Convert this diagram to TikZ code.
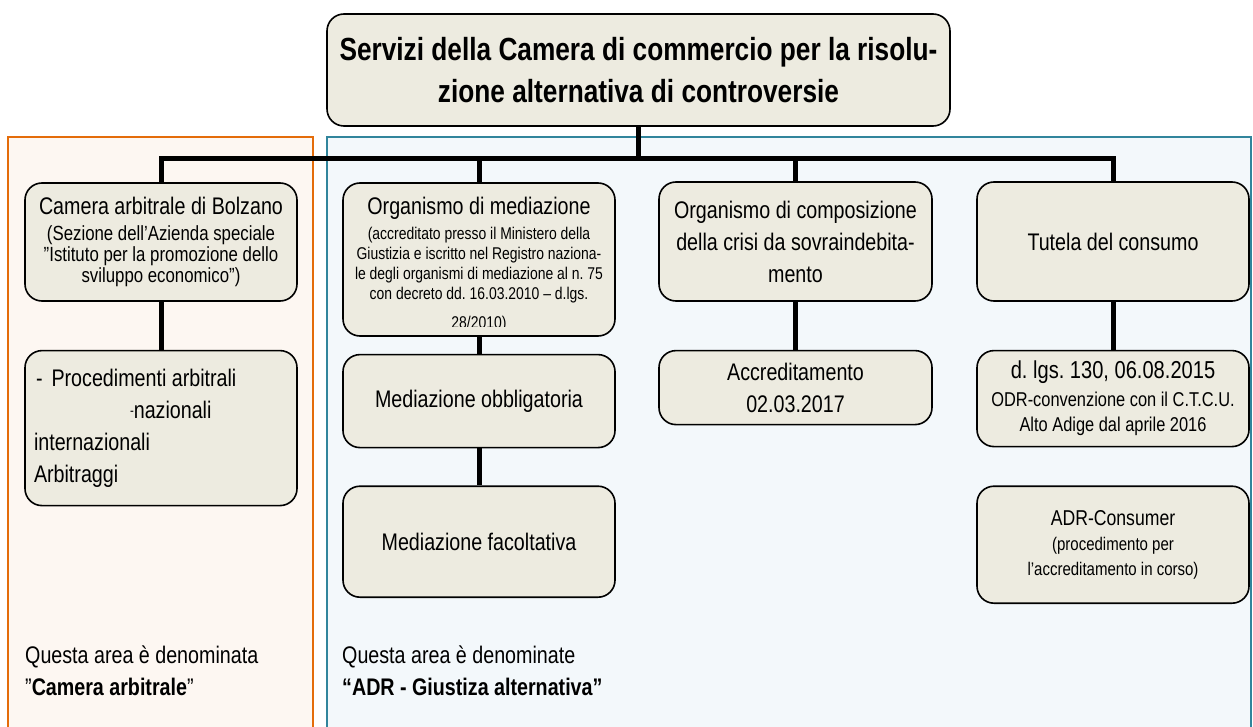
\documentclass[tikz,border=0pt]{standalone}
\usepackage{fontspec}
\setmainfont{Liberation Sans}[FakeStretch=0.82]
\usetikzlibrary{positioning}

\definecolor{boxfill}{RGB}{237,235,224}
\definecolor{arbline}{RGB}{228,108,10}
\definecolor{arbfill}{RGB}{253,247,242}
\definecolor{adrline}{RGB}{49,133,156}
\definecolor{adrfill}{RGB}{243,248,251}
\newcommand{\setfs}[2]{\fontsize{#1}{#2}\selectfont}
\frenchspacing

\begin{document}
\begin{tikzpicture}[x=1pt, y=-1pt, font=\setfs{24}{32}]
		\tikzstyle{box} = [rectangle, rounded corners=17pt, draw=black, line width=1.6pt, fill=boxfill, align=center, minimum width=272pt, inner sep=4pt]
		
		\tikzstyle{conn} = [line width=5pt]
		
		\tikzstyle{area} = [line width=2pt]
		
		\useasboundingbox (0,0) rectangle (1253,727);
		
		% The two areas
		\draw [area, draw=arbline, fill=arbfill] (8,137) rectangle (313,740);
		\draw [area, draw=adrline, fill=adrfill] (327,137) rectangle (1251,740);
		
		% Top node
		\node (top) [box, minimum width=623pt, minimum height=112pt, font=\bfseries\setfs{32}{42}] at (638.5,70) {Servizi della Camera di commercio per la risolu-\\zione alternativa di controversie};
		
		% Level 1 nodes
		\node (cam) [box, minimum height=118pt, font=\setfs{20.5}{21}] at (161,242) {{\setfs{24}{28}Camera arbitrale di Bolzano}\\[5pt](Sezione dell'Azienda speciale\\"Istituto per la promozione dello\\sviluppo economico")};
		\node (med) [box, minimum height=153pt, path picture={
				\clip (path picture bounding box.north west) rectangle ([yshift=9pt]path picture bounding box.south east);
				\node [rectangle, minimum width=0pt, minimum height=0pt, inner sep=0pt, align=center, font=\setfs{17}{20}, anchor=north] at ([yshift=-13pt]path picture bounding box.north) {{\setfs{24}{28}Organismo di mediazione}\\[5pt](accreditato presso il Ministero della\\Giustizia e iscritto nel Registro naziona-\\le degli organismi di mediazione al n. 75\\con decreto dd. 16.03.2010 – d.lgs.\\[9pt]28/2010)};
			}] at (479,259.5) {};
		\node (comp) [box, minimum width=273pt, minimum height=119pt] at (795.5,241.5) {Organismo di composizione\\della crisi da sovraindebita-\\mento};
		\node (tut) [box, minimum height=119pt] at (1113,241.5) {Tutela del consumo};
		
		% Level 2 nodes
		\node (proc) [box, minimum height=155pt, below=48pt of cam, align=flush left, text width=254pt] {\hspace*{2pt}-\hspace{9pt}Procedimenti arbitrali\\\hspace*{96pt}\raisebox{3pt}{\setfs{14}{14}-}nazionali\\internazionali\\Arbitraggi};
		\node (obb) [box, minimum height=93pt, below=17pt of med] {Mediazione obbligatoria};
		\node (fac) [box, minimum height=111pt, below=37pt of obb] {Mediazione facoltativa};
		\node (accr) [box, minimum width=273pt, minimum height=74pt, below=48pt of comp] {Accreditamento\\02.03.2017};
		\node (dlgs) [box, minimum height=96pt, below=48pt of tut, font=\setfs{20}{25}] {{\setfs{24.5}{28}d. lgs. 130, 06.08.2015}\\[3pt]ODR-convenzione con il C.T.C.U.\\Alto Adige dal aprile 2016};
		\node (adr) [box, minimum height=117pt, below=38pt of dlgs, font=\setfs{18.3}{25}] {{\setfs{21.5}{24}ADR-Consumer}\\(procedimento per\\l'accreditamento in corso)};
		
		% Area notes
		\node (arbnote) [anchor=north west, inner sep=0pt, align=left] at (25,646) {Questa area è denominata\\"\textbf{Camera arbitrale}"};
		\node (adrnote) [anchor=north west, inner sep=0pt, align=left] at (342,646) {Questa area è denominate\\\textbf{“ADR - Giustiza alternativa”}};
		
		% Connectors
		\draw [conn] (top.south) -- ++(0,32) coordinate (bus);
		\draw [conn] (cam.north) |- (bus) -| (tut.north);
		\draw [conn] (med.north) -- (med.north |- bus);
		\draw [conn] (comp.north) -- (comp.north |- bus);
		\draw [conn] (cam.south) -- (proc.north);
		\draw [conn] (med.south) -- (obb.north);
		\draw [conn] (obb.south) -- (fac.north);
		\draw [conn] (comp.south) -- (accr.north);
		\draw [conn] (tut.south) -- (dlgs.north);
	\end{tikzpicture}
\end{document}
